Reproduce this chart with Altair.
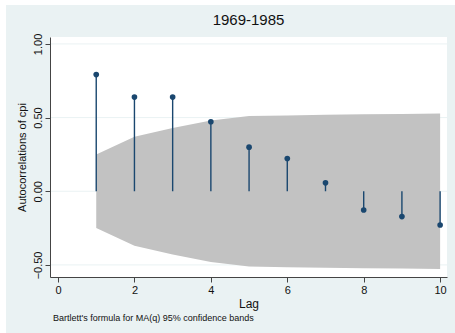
import altair as alt
import pandas as pd

lags = [1, 2, 3, 4, 5, 6, 7, 8, 9, 10]
acf = [0.792, 0.639, 0.639, 0.472, 0.299, 0.222, 0.057, -0.127, -0.172, -0.229]
band = [0.25, 0.37, 0.43, 0.48, 0.51, 0.515, 0.52, 0.522, 0.525, 0.527]
yticks = [-0.5, 0.0, 0.5, 1.0]
xticks = [0, 2, 4, 6, 8, 10]
title_text = "1969-1985"
note_text = "Bartlett's formula for MA(q) 95% confidence bands"

df = pd.DataFrame({"lag": lags, "acf": acf, "upper": band,
                   "lower": [-b for b in band], "zero": [0.0] * len(lags)})
grid_df = pd.DataFrame({"y": yticks})
one = pd.DataFrame({"a": [0]})

NAVY = "#1a476f"
FONT = "Liberation Sans"
OUTER = "#eaf2f3"

xscale = alt.Scale(domain=[-0.21, 10.18], nice=False, zero=False)
yscale = alt.Scale(domain=[-0.582, 1.047], nice=False, zero=False)

xax = alt.Axis(values=xticks, title="Lag", grid=False, zindex=1,
               labelFontSize=11, titleFontSize=12, titleFontWeight="normal",
               labelPadding=2, titlePadding=3, tickSize=5)
yax = alt.Axis(values=yticks, format=".2f", title="Autocorrelations of cpi",
               grid=False, zindex=1,
               labelAngle=270, labelAlign="center", labelBaseline="bottom",
               labelFontSize=11, titleFontSize=11, titleFontWeight="normal",
               labelPadding=2, titlePadding=5, tickSize=5)

outer = alt.Chart(one).mark_rect(color=OUTER).encode(
    x=alt.value(-44), x2=alt.value(420), y=alt.value(-32), y2=alt.value(300)
)
inner = alt.Chart(one).mark_rect(color="white").encode(
    x=alt.value(0), x2=alt.value(397), y=alt.value(0), y2=alt.value(240)
)
grid = alt.Chart(grid_df).mark_rule(color=OUTER, strokeWidth=1).encode(
    y=alt.Y("y:Q", scale=yscale, axis=yax)
)

base = alt.Chart(df)

area = base.mark_area(color="#c2c2c2", opacity=1).encode(
    x=alt.X("lag:Q", scale=xscale, axis=xax),
    y=alt.Y("lower:Q", scale=yscale, axis=yax),
    y2="upper:Q",
)

stems = base.mark_rule(color=NAVY, strokeWidth=1.4).encode(
    x="lag:Q", y="zero:Q", y2="acf:Q"
)

dots = base.mark_circle(color=NAVY, size=32, opacity=1).encode(
    x="lag:Q", y="acf:Q"
)

note = alt.Chart(pd.DataFrame({"t": [note_text]})).mark_text(
    align="left", baseline="middle", fontSize=9, font=FONT, color="#111"
).encode(x=alt.value(3), y=alt.value(281), text="t:N")

title = alt.Chart(pd.DataFrame({"t": [title_text]})).mark_text(
    align="center", baseline="middle", fontSize=15, font=FONT, color="#111"
).encode(x=alt.value(198.5), y=alt.value(-17), text="t:N")

chart = alt.layer(outer, inner, grid, area, stems, dots, note, title).properties(
    width=397, height=240,
    autosize=alt.AutoSizeParams(type="none"),
    padding={"left": 50, "top": 37, "right": 8, "bottom": 56},
    background="white",
).configure_view(
    stroke=None
).configure_axis(
    labelFont=FONT, titleFont=FONT, labelColor="#111", titleColor="#111",
    domainColor="#444", tickColor="#444", domainWidth=1, tickWidth=1,
)

chart.save("out.html", embed_options={"renderer": "svg", "actions": False})
